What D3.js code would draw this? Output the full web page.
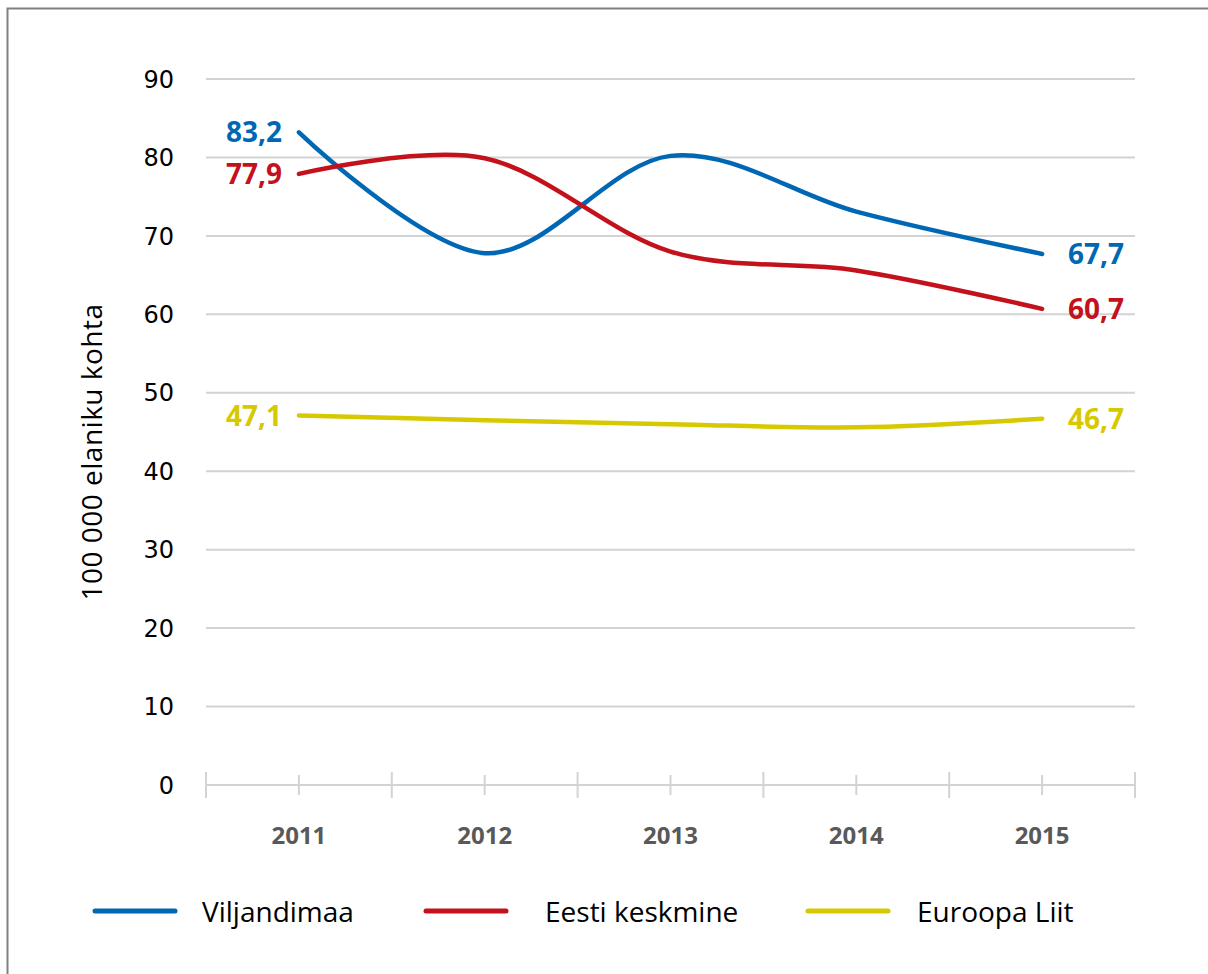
<!DOCTYPE html>
<html>
<head>
<meta charset="utf-8">
<script src="https://cdn.jsdelivr.net/npm/d3@7"></script>
<style>
  body { margin: 0; background: #fff; }
  svg { display: block; }
</style>
</head>
<body>
<div id="chart"></div>
<script>
// years on the x axis
var years = ["2011", "2012", "2013", "2014", "2015"];
// series values (per 100 000 inhabitants)
var viljandimaa = [83.2, 67.8, 80.2, 73.1, 67.7];
var eestiKeskmine = [77.9, 79.9, 68.0, 65.6, 60.7];
var euroopaLiit = [47.1, 46.5, 46.0, 45.6, 46.7];
var seriesNames = ["Viljandimaa", "Eesti keskmine", "Euroopa Liit"];
var seriesColors = ["#0067b4", "#c3121c", "#d6c900"];
var yTicks = [0, 10, 20, 30, 40, 50, 60, 70, 80, 90];

var width = 1208, height = 974;

var svg = d3.select("#chart").append("svg")
  .attr("width", width).attr("height", height);

// outer frame
svg.append("rect")
  .attr("x", 7.5).attr("y", 8.5)
  .attr("width", width).attr("height", height)
  .attr("fill", "none").attr("stroke", "#808080").attr("stroke-width", 2);

var x = d3.scaleBand().domain(years).range([206, 1135]).padding(0);
var y = d3.scaleLinear().domain([0, 90]).range([785, 79]);
var cx = function (d) { return x(d) + x.bandwidth() / 2; };

// gridlines
svg.append("g").selectAll("line")
  .data(yTicks.filter(function (d) { return d > 0; }))
  .enter().append("line")
  .attr("x1", 206).attr("x2", 1135)
  .attr("y1", function (d) { return y(d); })
  .attr("y2", function (d) { return y(d); })
  .attr("stroke", "#d3d3d3").attr("stroke-width", 2);

// y tick labels
svg.append("g").selectAll("text")
  .data(yTicks).enter().append("text")
  .attr("x", 174)
  .attr("y", function (d) { return y(d); })
  .attr("dy", "0.36em")
  .attr("text-anchor", "end")
  .style("font-family", "DejaVu Sans")
  .style("font-size", "24px")
  .style("fill", "#000")
  .text(function (d) { return d; });

// baseline with long ticks at boundaries and short ticks at centres
var base = svg.append("g").attr("stroke", "#d3d3d3").attr("stroke-width", 2);
base.append("line").attr("x1", 206).attr("x2", 1135).attr("y1", y(0)).attr("y2", y(0));
var bounds = years.map(function (d) { return x(d); }).concat([x.range()[1]]);
base.selectAll(".long").data(bounds).enter().append("line")
  .attr("x1", function (d) { return d; }).attr("x2", function (d) { return d; })
  .attr("y1", y(0) - 13).attr("y2", y(0) + 13);
base.selectAll(".short").data(years).enter().append("line")
  .attr("x1", cx).attr("x2", cx)
  .attr("y1", y(0) - 10).attr("y2", y(0) + 10);

// x labels
svg.append("g").selectAll("text")
  .data(years).enter().append("text")
  .attr("x", cx).attr("y", 844)
  .attr("text-anchor", "middle")
  .style("font-family", "Open Sans")
  .style("font-weight", "bold")
  .style("font-size", "24px")
  .style("fill", "#595959")
  .text(function (d) { return d; });

// y axis title
svg.append("text")
  .attr("transform", "translate(102,452) rotate(-90)")
  .attr("text-anchor", "middle")
  .style("font-family", "Open Sans")
  .style("font-size", "28px")
  .style("letter-spacing", "0.5px")
  .style("fill", "#000")
  .text("100 000 elaniku kohta");

var allSeries = [viljandimaa, eestiKeskmine, euroopaLiit];

var line = d3.line()
  .x(function (d, i) { return cx(years[i]); })
  .y(function (d) { return y(d); })
  .curve(d3.curveCardinal.tension(0));

svg.append("g").selectAll("path")
  .data(allSeries).enter().append("path")
  .attr("d", line)
  .attr("fill", "none")
  .attr("stroke", function (d, i) { return seriesColors[i]; })
  .attr("stroke-width", 4.5)
  .attr("stroke-linecap", "round");

// end labels
function fmt(v) { return v.toFixed(1).replace(".", ","); }
var labels = svg.append("g")
  .style("font-family", "Open Sans")
  .style("font-weight", "bold")
  .style("font-size", "28px");
allSeries.forEach(function (s, i) {
  labels.append("text")
    .attr("x", cx(years[0]) - 17).attr("y", y(s[0]))
    .attr("dy", "0.36em")
    .attr("text-anchor", "end")
    .style("fill", seriesColors[i])
    .text(fmt(s[0]));
  labels.append("text")
    .attr("x", cx(years[years.length - 1]) + 26).attr("y", y(s[s.length - 1]))
    .attr("dy", "0.36em")
    .attr("text-anchor", "start")
    .style("fill", seriesColors[i])
    .text(fmt(s[s.length - 1]));
});

// legend
var legendX = [95, 426, 808];
var legendTextX = [202, 545, 917];
var legend = svg.append("g").selectAll("g")
  .data(seriesNames).enter().append("g");
legend.append("line")
  .attr("x1", function (d, i) { return legendX[i]; })
  .attr("x2", function (d, i) { return legendX[i] + 80; })
  .attr("y1", 911).attr("y2", 911)
  .attr("stroke", function (d, i) { return seriesColors[i]; })
  .attr("stroke-width", 5)
  .attr("stroke-linecap", "round");
legend.append("text")
  .attr("x", function (d, i) { return legendTextX[i]; })
  .attr("y", 922)
  .style("font-family", "Open Sans")
  .style("font-size", "28px")
  .style("fill", "#000")
  .text(function (d) { return d; });
</script>
</body>
</html>
